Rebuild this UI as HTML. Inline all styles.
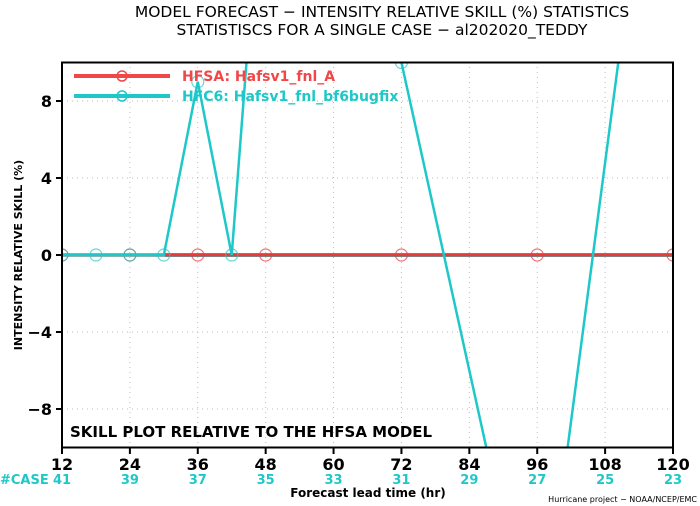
<!DOCTYPE html>
<html><head><meta charset="utf-8"><style>
html,body{margin:0;padding:0;background:#fff;width:700px;height:506px;overflow:hidden}
svg{display:block}
svg text{font-family:"DejaVu Sans","Liberation Sans",sans-serif;font-weight:bold}
</style></head><body>
<svg id="chart" width="700" height="506" xmlns="http://www.w3.org/2000/svg">
<text x="382" y="17" font-size="15.5" text-anchor="middle" style="font-weight:normal">MODEL FORECAST − INTENSITY RELATIVE SKILL (%) STATISTICS</text>
<text x="382" y="35" font-size="15.5" text-anchor="middle" style="font-weight:normal">STATISTISCS FOR A SINGLE CASE − al202020_TEDDY</text>
<g id="grid"></g>
<g id="series"></g>
<rect x="62" y="62.5" width="611" height="385" fill="none" stroke="#000" stroke-width="2"/>
<g id="axes"></g>
<text transform="translate(22,255) rotate(-90)" font-size="11" text-anchor="middle">INTENSITY RELATIVE SKILL (%)</text>
<text x="368" y="497" font-size="12" text-anchor="middle">Forecast lead time (hr)</text>
<text x="0" y="484" font-size="13" fill="#1ec8c8">#CASE</text>
<text x="697" y="502" font-size="8" text-anchor="end" style="font-weight:normal">Hurricane project − NOAA/NCEP/EMC</text>
<text x="70" y="437" font-size="15">SKILL PLOT RELATIVE TO THE HFSA MODEL</text>
<g>
<line x1="74" y1="76" x2="170" y2="76" stroke="#f04848" stroke-width="4"/>
<circle cx="122" cy="76" r="5" fill="none" stroke="#f04848" stroke-width="1.5"/>
<text x="182" y="81" font-size="14" fill="#f04848">HFSA:  Hafsv1_fnl_A</text>
<line x1="74" y1="96" x2="170" y2="96" stroke="#1ec8c8" stroke-width="4"/>
<circle cx="122" cy="96" r="5" fill="none" stroke="#1ec8c8" stroke-width="1.5"/>
<text x="182" y="101" font-size="14" fill="#1ec8c8">HFC6:  Hafsv1_fnl_bf6bugfix</text>
</g>
</svg>
<script>
const xTicks=[12,24,36,48,60,72,84,96,108,120];
const yTicks=[-8,-4,0,4,8];
const caseCounts=[41,39,37,35,33,31,29,27,25,23];
const hfsaHours=[12,24,36,48,72,96,120];
const hfsaValues=[0,0,0,0,0,0,0];
const hfc6Hours=[12,18,24,30,36,42,48,72,96,120];
const hfc6Values=[0,0,0,0,9,0,23,10,-22,31.6];
const NS="http://www.w3.org/2000/svg";
const X=h=>62+(h-12)*(611/108);
const Y=v=>255-v*19.25;
function mk(t,a,p){const e=document.createElementNS(NS,t);for(const k in a)e.setAttribute(k,a[k]);p.appendChild(e);return e;}
const grid=document.getElementById('grid'),axes=document.getElementById('axes'),ser=document.getElementById('series');
xTicks.forEach((t,i)=>{
 const g=mk('line',{x1:X(t),x2:X(t),y1:62,y2:448,stroke:'#bbb','stroke-dasharray':'1,4'},grid);
 
 
 const tk=mk('line',{x1:X(t),x2:X(t),y1:448,y2:454,stroke:'#000','stroke-width':2},axes);
 
 
 const l=mk('text',{x:X(t),y:470,'font-size':16,'text-anchor':'middle'},axes);l.textContent=t;
 
 
 const c=mk('text',{x:X(t),y:484,'font-size':13,'text-anchor':'middle',fill:'#1ec8c8'},axes);c.textContent=caseCounts[i];
 
 
});
yTicks.forEach(t=>{
 const g=mk('line',{x1:62,x2:673,y1:Y(t),y2:Y(t),stroke:'#bbb','stroke-dasharray':'1,4'},grid);
 
 
 const tk=mk('line',{x1:56,x2:62,y1:Y(t),y2:Y(t),stroke:'#000','stroke-width':2},axes);
 
 
 const l=mk('text',{x:52,y:Y(t)+6,'font-size':16,'text-anchor':'end'},axes);l.textContent=t<0?'−'+(-t):t;
 
 
});
const zl=mk('line',{x1:62,x2:673,y1:Y(0),y2:Y(0),stroke:'#000','stroke-width':3},grid);


const cp=mk('clipPath',{id:'clip'},ser);mk('rect',{x:62,y:62.5,width:611,height:385},cp);
function draw(hours,vals,color,name,w){
 const g=mk('g',{'clip-path':'url(#clip)'},ser);
 
 
 const pl=mk('polyline',{points:hours.map((h,i)=>X(h)+','+Y(vals[i])).join(' '),fill:'none',stroke:color,'stroke-width':w},g);
 
 
 hours.forEach((h,i)=>{const c=mk('circle',{cx:X(h),cy:Y(vals[i]),r:6,fill:'none',stroke:color,'stroke-width':1.2,opacity:0.7},g);
  
  });
}
draw(hfsaHours,hfsaValues,'#e83c3c','hfsa-series',2);
draw(hfc6Hours,hfc6Values,'#1ec8c8','hfc6-series',2.5);
</script>
</body></html>
